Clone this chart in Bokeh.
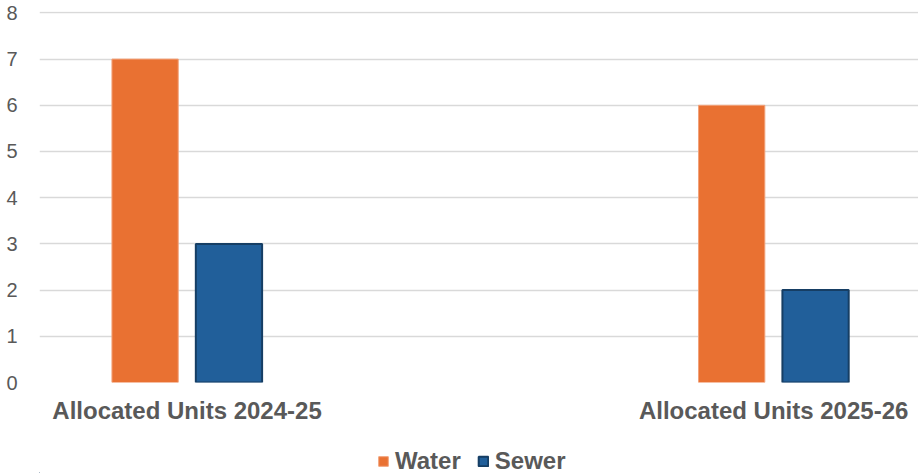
from bokeh.plotting import figure
from bokeh.layouts import column
from bokeh.models import (ColumnDataSource, Range1d, FixedTicker, Legend, LegendItem)
from bokeh.transform import dodge
from bokeh.embed import file_html
from bokeh.resources import INLINE

categories = ["Allocated Units 2024-25", "Allocated Units 2025-26"]
series_names = ["Water", "Sewer"]
water = [7, 6]
sewer = [3, 2]
y_ticks = [0, 1, 2, 3, 4, 5, 6, 7, 8]

WATER_FILL, WATER_LINE = "#E97132", "#F2A27A"
SEWER_FILL, SEWER_LINE = "#215F9A", "#163E64"
GRID = "#d9d9d9"
TXT = "#595959"

idx = list(range(len(categories)))
src = ColumnDataSource(dict(x=idx, water=water, sewer=sewer))

p = figure(frame_width=879, frame_height=371, output_backend="svg", toolbar_location=None,
           x_range=Range1d(-0.2515, 1.247), y_range=Range1d(0, 8.03),
           min_border_left=39, min_border_right=0, min_border_top=11, min_border_bottom=52)
p.outline_line_color = None
p.background_fill_color = "white"
p.border_fill_color = "white"

p.xgrid.visible = False
p.ygrid.grid_line_color = GRID
p.ygrid.grid_line_width = 1.6
p.yaxis.ticker = FixedTicker(ticks=y_ticks)
p.yaxis.axis_line_color = None
p.yaxis.major_tick_line_color = None
p.yaxis.minor_tick_line_color = None
p.yaxis.major_tick_out = 0
p.yaxis.major_tick_in = 0
p.yaxis.major_label_standoff = 22
p.yaxis.major_label_text_font = "Liberation Sans"
p.yaxis.major_label_text_font_size = "20px"
p.yaxis.major_label_text_color = TXT

p.xaxis.ticker = FixedTicker(ticks=idx)
p.xaxis.major_label_overrides = {i: c for i, c in zip(idx, categories)}
p.xaxis.axis_line_color = None
p.xaxis.major_tick_line_color = None
p.xaxis.minor_tick_line_color = None
p.xaxis.major_tick_out = 0
p.xaxis.major_tick_in = 0
p.xaxis.major_label_standoff = 14
p.xaxis.major_label_text_font = "Liberation Sans"
p.xaxis.major_label_text_font_style = "bold"
p.xaxis.major_label_text_font_size = "24px"
p.xaxis.major_label_text_color = TXT

bw = 0.113
p.vbar(x=dodge("x", -0.0715, range=p.x_range), top="water", width=bw, source=src,
       fill_color=WATER_FILL, line_color=WATER_LINE, line_width=1)
p.vbar(x=dodge("x", 0.0715, range=p.x_range), top="sewer", width=bw, source=src,
       fill_color=SEWER_FILL, line_color=SEWER_LINE, line_width=2)

# legend strip below the chart (its bars lie far outside this strip's view; only the key shows)
lg = figure(width=918, height=39, output_backend="svg", toolbar_location=None,
            x_axis_location=None, y_axis_location=None,
            x_range=Range1d(50, 51), y_range=Range1d(50, 51), min_border=0)
lg.outline_line_color = None
lg.grid.visible = False
lg.background_fill_color = "white"
lg.border_fill_color = "white"
g1 = lg.vbar(x="x", top="water", width=0.1, source=src,
             fill_color=WATER_FILL, line_color=WATER_LINE, line_width=1)
g2 = lg.vbar(x="x", top="sewer", width=0.1, source=src,
             fill_color=SEWER_FILL, line_color=SEWER_LINE, line_width=2)
legend = Legend(items=[LegendItem(label=series_names[0], renderers=[g1]),
                       LegendItem(label=series_names[1], renderers=[g2])],
                orientation="horizontal", location=(338, -2),
                label_text_font="Liberation Sans", label_text_font_style="bold",
                label_text_font_size="24px", label_text_color=TXT,
                glyph_width=12, glyph_height=12, label_standoff=6, spacing=16,
                border_line_color=None, background_fill_alpha=0,
                padding=0, margin=0)
lg.add_layout(legend, "center")

layout = column(p, lg, spacing=0)
open("out.html", "w").write(file_html(layout, INLINE))
